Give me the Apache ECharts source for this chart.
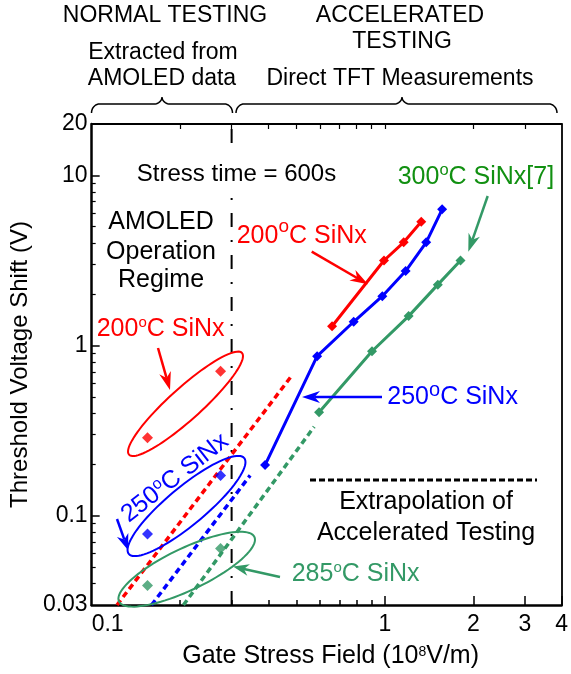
<!DOCTYPE html>
<html><head><meta charset="utf-8">
<script src="https://cdn.jsdelivr.net/npm/echarts@6/dist/echarts.min.js"></script>
<style>html,body{margin:0;padding:0;background:#fff}#c{width:571px;height:674px}</style>
</head><body><div id="c"></div>
<script>
const FONT = '"Liberation Sans", Arial, Helvetica, sans-serif';

// ---- Accelerated testing: direct TFT measurements ----
const red200X   = [0.660, 0.992, 1.158, 1.329];
const red200Y   = [1.30, 3.16, 4.04, 5.33];
const blue250X  = [0.390, 0.587, 0.782, 0.979, 1.176, 1.382, 1.566];
const blue250Y  = [0.199, 0.867, 1.38, 1.95, 2.74, 4.04, 6.31];
const green300X = [0.596, 0.903, 1.204, 1.514, 1.809];
const green300Y = [0.406, 0.927, 1.49, 2.28, 3.16];

// ---- Normal testing: extracted from AMOLED data ----
const amoledX         = [0.155, 0.275];
const amoledRed200Y   = [0.288, 0.706];
const amoledBlue250Y  = [0.0783, 0.1725];
const amoledGreen285Y = [0.039, 0.0645];

// ---- Extrapolation of accelerated testing (end points) ----
const extrapRedX   = [0.122, 0.480];
const extrapRedY   = [0.03, 0.663];
const extrapBlueX  = [0.160, 0.347];
const extrapBlueY  = [0.03, 0.173];
const extrapGreenX = [0.2055, 0.5735];
const extrapGreenY = [0.03, 0.334];

// ---- Regime boundary ----
const boundaryX = [0.3, 0.3];
const boundaryY = [0.03, 20];

// ---- Axis ticks ----
const xLabelTicks = [0.1, 1, 2, 3, 4];
const xMajorTicks = [1, 2, 3, 4];
const xMinorTicks = [0.2, 0.3, 0.4, 0.5, 0.6, 0.7, 0.8, 0.9];
const yLabelTicks = [0.03, 0.1, 1, 10, 20];
const yMajorTicks = [0.1, 1, 10];
const yMinorTicks = [0.04, 0.05, 0.06, 0.07, 0.08, 0.09, 0.2, 0.3, 0.4, 0.5, 0.6, 0.7, 0.8, 0.9, 2, 3, 4, 5, 6, 7, 8, 9];

const RED = '#ff0000', BLUE = '#0000ff', GREEN = '#339966', GREEN_TXT = '#119011';

function pts(xs, ys) { return xs.map((x, i) => [x, ys[i]]); }
const fmt = v => String(parseFloat((+v).toPrecision(4)));

function solid(name, xs, ys, color) {
  return { type: 'line', name, data: pts(xs, ys), xAxisIndex: 0, yAxisIndex: 0,
    symbol: 'diamond', symbolSize: 10, showSymbol: true,
    lineStyle: { color, width: 3 }, itemStyle: { color }, z: 5, silent: true };
}
function dashed(name, xs, ys, color) {
  return { type: 'line', name, data: pts(xs, ys), xAxisIndex: 0, yAxisIndex: 0,
    symbol: 'none', lineStyle: { color, width: 3.5, type: [6, 4] }, z: 4, silent: true };
}
function scat(name, xs, ys, color) {
  return { type: 'scatter', name, data: pts(xs, ys), xAxisIndex: 0, yAxisIndex: 0,
    symbol: 'diamond', symbolSize: 11, itemStyle: { color }, z: 6, silent: true };
}

// ---- annotation helpers ----
const mctx = document.createElement('canvas').getContext('2d');
function tw(str, size) { mctx.font = size + 'px ' + FONT; return mctx.measureText(str).width; }
function tstyle(text, size, color, align) {
  return { text: text, fill: color, fontSize: size, fontFamily: FONT,
    align: align, textAlign: align, verticalAlign: 'middle', textVerticalAlign: 'middle' };
}
function txt(text, x, y, opt) {
  opt = opt || {};
  const st = tstyle(text, opt.size || 23, opt.color || '#000', opt.align || 'center');
  if (opt.bg) { st.backgroundColor = opt.bg; st.padding = opt.pad; }
  return { type: 'text', z: 100, x: x, y: y, rotation: opt.rot || 0, style: st };
}
// label with a raised small "o" (degree) between pre and post
function supLabel(pre, post, x, y, opt) {
  const size = opt.size || 25, ss = opt.supSize || 15, rise = opt.rise || 3, color = opt.color || '#000';
  const w1 = tw(pre, size), w2 = tw('o', ss), w3 = tw(post, size);
  const total = w1 + w2 + w3;
  const x0 = opt.align === 'left' ? 0 : -total / 2;
  return {
    type: 'group', x: x, y: y, rotation: opt.rot || 0, z: 100,
    children: [
      { type: 'text', z: 100, x: x0, y: 0, style: tstyle(pre, size, color, 'left') },
      { type: 'text', z: 100, x: x0 + w1, y: -rise, style: tstyle('o', ss, color, 'left') },
      { type: 'text', z: 100, x: x0 + w1 + w2, y: 0, style: tstyle(post, size, color, 'left') }
    ]
  };
}
function arrow(x1, y1, x2, y2, color, lw, hl, hw) {
  const dx = x2 - x1, dy = y2 - y1, L = Math.hypot(dx, dy), ux = dx / L, uy = dy / L, px = -uy, py = ux;
  const bx = x2 - ux * hl, by = y2 - uy * hl;
  const nx = x2 - ux * hl * 0.7, ny = y2 - uy * hl * 0.7;
  return [
    { type: 'line', z: 100, shape: { x1: x1, y1: y1, x2: nx, y2: ny }, style: { stroke: color, lineWidth: lw } },
    { type: 'polygon', z: 100, shape: { points: [[x2, y2], [bx + px * hw, by + py * hw], [nx, ny], [bx - px * hw, by - py * hw]] },
      style: { fill: color } }
  ];
}
function ellipse(cx, cy, a, b, deg, color) {
  const t = deg * Math.PI / 180, p = [];
  for (let k = 0; k < 90; k++) {
    const f = k / 90 * 2 * Math.PI, x = a * Math.cos(f), y = b * Math.sin(f);
    p.push([cx + x * Math.cos(t) + y * Math.sin(t), cy - x * Math.sin(t) + y * Math.cos(t)]);
  }
  return { type: 'polygon', z: 100, shape: { points: p }, style: { fill: 'none', stroke: color, lineWidth: 2 } };
}
function brace(xa, xb, xt, yEnd, yMid, yTip) {
  const r = 8, p = [], N = 10;
  for (let i = 0; i <= N; i++) { const t = i / N * Math.PI / 2; p.push([xa + r - r * Math.cos(t), yEnd - (yEnd - yMid) * Math.sin(t)]); }
  for (let i = 0; i <= N; i++) { const t = i / N * Math.PI / 2; p.push([xt - r + r * Math.sin(t), yTip + (yMid - yTip) * Math.cos(t)]); }
  for (let i = 0; i <= N; i++) { const t = i / N * Math.PI / 2; p.push([xt + r - r * Math.cos(t), yTip + (yMid - yTip) * Math.sin(t)]); }
  for (let i = 0; i <= N; i++) { const t = i / N * Math.PI / 2; p.push([xb - r + r * Math.sin(t), yEnd - (yEnd - yMid) * Math.cos(t)]); }
  return { type: 'polyline', z: 100, shape: { points: p }, style: { stroke: '#000', lineWidth: 1.5, fill: 'none' } };
}

const graphics = [
  txt('NORMAL TESTING', 165, 15.5, { size: 23 }),
  txt('ACCELERATED', 400, 15.5, { size: 23 }),
  txt('TESTING', 402, 42, { size: 23 }),
  txt('Extracted from', 163, 53, { size: 23 }),
  txt('AMOLED data', 162, 79, { size: 23 }),
  txt('Direct TFT Measurements', 400, 79, { size: 23 }),
  brace(91.5, 232.5, 162, 113, 104, 97),
  brace(236, 557, 402, 113, 104, 97),
  txt('Stress time = 600s', 236.5, 174, { size: 24, bg: '#fff', pad: [10, 2, 10, 2] }),
  txt('AMOLED', 161, 222, { size: 25 }),
  txt('Operation', 161, 252, { size: 25 }),
  txt('Regime', 161, 280, { size: 25 }),
  supLabel('200', 'C SiNx', 96.7, 329, { color: RED, align: 'left', supSize: 15, rise: 6 }),
  supLabel('200', 'C SiNx', 236.7, 236, { color: RED, align: 'left', supSize: 19, rise: 9 }),
  supLabel('250', 'C SiNx', 387.3, 397, { color: BLUE, align: 'left', supSize: 20, rise: 6.5 }),
  supLabel('300', 'C SiNx[7]', 397.7, 177, { color: GREEN_TXT, align: 'left', supSize: 16.5, rise: 7 }),
  supLabel('285', 'C SiNx', 291.7, 574, { color: GREEN, align: 'left', supSize: 15, rise: 6 }),
  supLabel('250', 'C SiNx', 175, 478, { color: BLUE, size: 25, rot: 38 * Math.PI / 180, supSize: 16, rise: 6 }),
  txt('Extrapolation of', 426, 502, { size: 25 }),
  txt('Accelerated Testing', 426, 533, { size: 25 }),
  { type: 'line', z: 100, shape: { x1: 310, y1: 480, x2: 537, y2: 480 }, style: { stroke: '#000', lineWidth: 3, lineDash: [6, 3] } },
  ellipse(185.5, 403.8, 76, 16, 42, RED),
  ellipse(186.5, 506, 75, 19, 39.7, BLUE),
  ellipse(186.7, 569.2, 75, 21, 25.5, GREEN),
  ...arrow(158, 348, 170, 390, RED, 2.5, 18, 6),
  ...arrow(117, 519, 128, 550, BLUE, 2.5, 16, 6),
  ...arrow(280, 577, 233, 566.5, GREEN, 2.5, 16, 6),
  ...arrow(382, 397, 302, 397, BLUE, 2.5, 18, 6),
  ...arrow(311.7, 251.7, 368, 284.3, RED, 2.5, 18, 6),
  ...arrow(487.7, 196, 468.3, 251.7, GREEN, 2.5, 18, 6)
];

const baseLog = { type: 'log', logBase: 10, gridIndex: 0, splitLine: { show: false }, minorTick: { show: false }, minorSplitLine: { show: false } };
const axisText = { fontSize: 23, color: '#000', fontFamily: FONT };

const option = {
  animation: false,
  backgroundColor: '#fff',
  textStyle: { fontFamily: FONT },
  grid: { left: 91, right: 6, top: 124, bottom: 67, containLabel: false },
  xAxis: [
    Object.assign({}, baseLog, {
      min: 0.1, max: 4, position: 'bottom',
      axisLine: { show: true, onZero: false, lineStyle: { color: '#000', width: 2.5 } },
      axisTick: { show: true, inside: true, length: 9, customValues: xMajorTicks, lineStyle: { color: '#000', width: 1.5 } },
      axisLabel: { show: true, customValues: xLabelTicks, formatter: fmt, margin: 8, alignMinLabel: 'left', ...axisText },
      name: 'Gate Stress Field (10{sup|8}V/m)', nameLocation: 'middle', nameGap: 39,
      nameTextStyle: { fontSize: 25, color: '#000', fontFamily: FONT, padding: [0, 0, 0, 8],
        rich: { sup: { fontSize: 14, color: '#000', fontFamily: FONT, padding: [0, 0, 8, 0] } } }
    }),
    Object.assign({}, baseLog, {
      min: 0.1, max: 4, position: 'bottom',
      axisLine: { show: false },
      axisTick: { show: true, inside: true, length: 5, customValues: xMinorTicks, lineStyle: { color: '#000', width: 1.5 } },
      axisLabel: { show: false }
    }),
    Object.assign({}, baseLog, {
      min: 0.1, max: 4, position: 'top',
      axisLine: { show: true, onZero: false, lineStyle: { color: '#000', width: 1.8 } },
      axisTick: { show: true, inside: true, length: 5, customValues: xMinorTicks.concat([1, 2, 3]), lineStyle: { color: '#000', width: 1.2 } },
      axisLabel: { show: false }
    })
  ],
  yAxis: [
    Object.assign({}, baseLog, {
      min: 0.03, max: 20, position: 'left',
      axisLine: { show: true, onZero: false, lineStyle: { color: '#000', width: 2.5 } },
      axisTick: { show: true, inside: true, length: 8, customValues: yMajorTicks, lineStyle: { color: '#000', width: 1.5 } },
      axisLabel: { show: true, customValues: yLabelTicks, formatter: fmt, margin: 4, ...axisText },
      name: 'Threshold Voltage Shift (V)', nameLocation: 'middle', nameGap: 41, nameRotate: 90,
      nameTextStyle: { fontSize: 24, color: '#000', fontFamily: FONT }
    }),
    Object.assign({}, baseLog, {
      min: 0.03, max: 20, position: 'left',
      axisLine: { show: false },
      axisTick: { show: true, inside: true, length: 4, customValues: yMinorTicks, lineStyle: { color: '#000', width: 1.2 } },
      axisLabel: { show: false }
    }),
    Object.assign({}, baseLog, {
      min: 0.03, max: 20, position: 'right',
      axisLine: { show: true, onZero: false, lineStyle: { color: '#000', width: 1.8 } },
      axisTick: { show: false },
      axisLabel: { show: false }
    })
  ],
  series: [
    { type: 'line', name: 'boundary', data: pts(boundaryX, boundaryY), xAxisIndex: 0, yAxisIndex: 0,
      symbol: 'none', lineStyle: { color: '#000', width: 2, type: [14, 13, 2, 13] }, z: 3, silent: true },
    dashed('red extrap', extrapRedX, extrapRedY, RED),
    dashed('blue extrap', extrapBlueX, extrapBlueY, BLUE),
    dashed('green extrap', extrapGreenX, extrapGreenY, GREEN),
    solid('200C SiNx', red200X, red200Y, RED),
    solid('250C SiNx', blue250X, blue250Y, BLUE),
    solid('300C SiNx', green300X, green300Y, GREEN),
    scat('200C AMOLED', amoledX, amoledRed200Y, RED),
    scat('250C AMOLED', amoledX, amoledBlue250Y, BLUE),
    scat('285C AMOLED', amoledX, amoledGreen285Y, GREEN)
  ],
  graphic: { elements: graphics }
};

const chart = echarts.init(document.getElementById('c'), null, { renderer: 'canvas' });
chart.setOption(option);
</script>
</body></html>
